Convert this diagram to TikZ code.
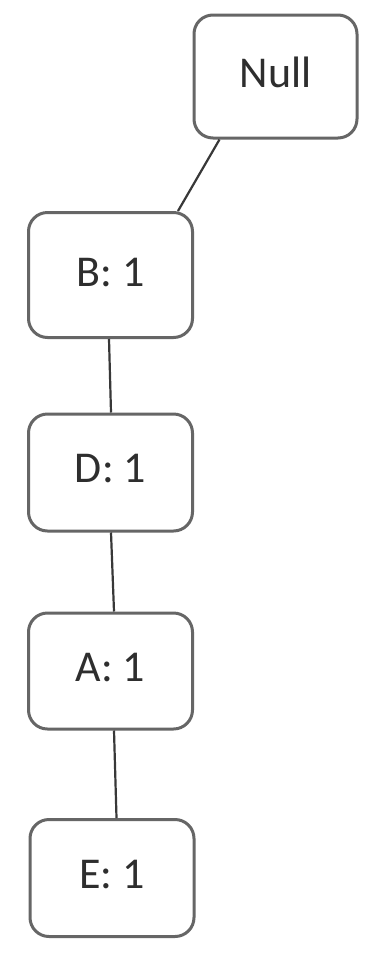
\documentclass[tikz,border=0pt]{standalone}
\usepackage{fontspec}
\setmainfont{Carlito}
\usetikzlibrary{calc}
\tikzset{
  nbox/.style={draw=black!60, line width=3pt, rounded corners=19pt, fill=white,
    minimum width=#1, inner sep=0pt, text=black!82,
    font=\fontsize{44}{48}\selectfont},
  conn/.style={draw=black!78, line width=2.2pt}
}
\begin{document}
\begin{tikzpicture}[x=1pt,y=1pt]
\useasboundingbox[fill=white] (0,0) rectangle (367,-954);
\node[nbox=163pt, minimum height=123pt] (null) at (275.5,-76.5) {\raisebox{8pt}{Null}};
\node[nbox=164pt, minimum height=125pt] (b) at (110.5,-275) {\raisebox{6pt}{B: 1}};
\node[nbox=164pt, minimum height=117pt] (d) at (110.5,-472.5) {\raisebox{8pt}{D: 1}};
\node[nbox=164pt, minimum height=116pt] (a) at (110.5,-671) {\raisebox{8pt}{A: 1}};
\node[nbox=164pt, minimum height=117pt] (e) at (112,-878) {\raisebox{8pt}{E: 1}};
\draw[conn] ($(null.south west)+(27pt,0)$) -- ($(b.north west)+(151pt,0)$);
\draw[conn] ($(b.south west)+(82pt,0)$) -- ($(d.north west)+(84pt,0)$);
\draw[conn] ($(d.south west)+(84pt,0)$) -- ($(a.north west)+(87pt,0)$);
\draw[conn] ($(a.south west)+(87pt,0)$) -- ($(e.north west)+(88pt,0)$);
\end{tikzpicture}
\end{document}
